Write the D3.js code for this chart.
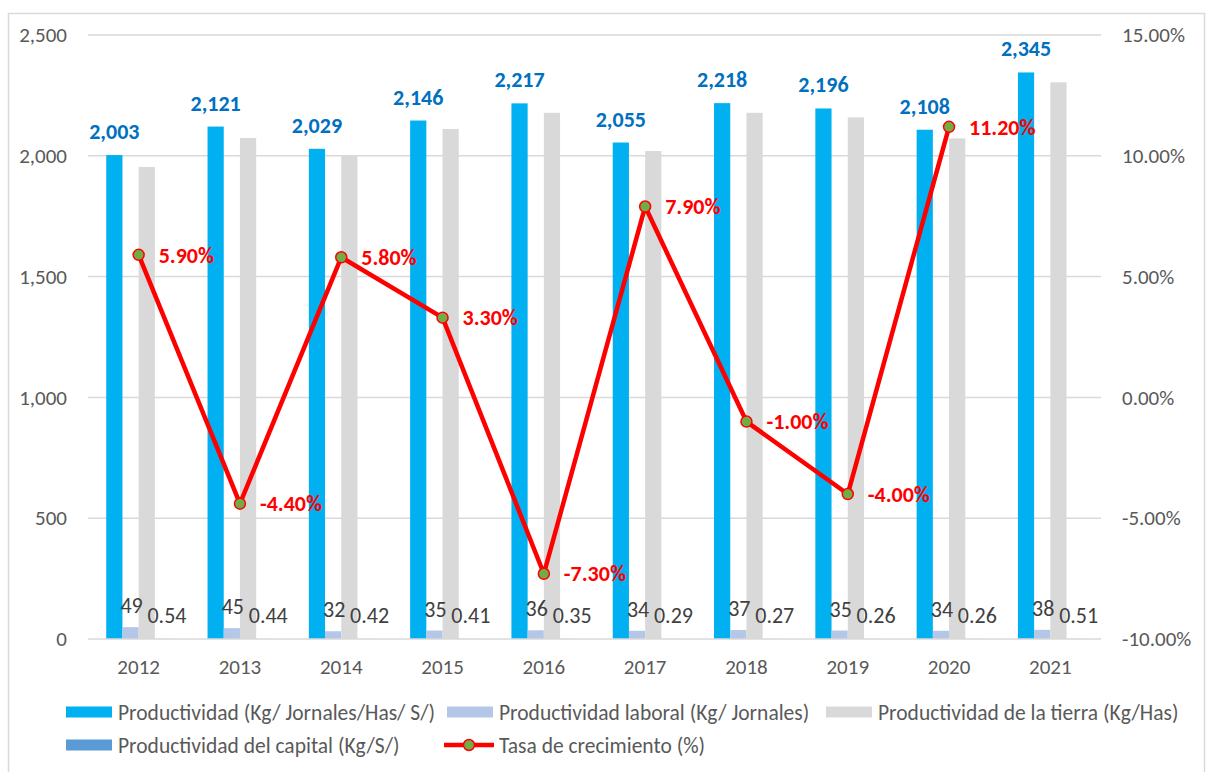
<!DOCTYPE html>
<html>
<head>
<meta charset="utf-8">
<script src="https://cdn.jsdelivr.net/npm/d3@7"></script>
<style>
  body { margin: 0; background: #fff; }
  svg text { font-family: Carlito, Calibri, Lato, "Open Sans", sans-serif; }
</style>
</head>
<body>
<svg id="chart" width="1209" height="772"></svg>
<script>
const width = 1209;
const height = 772;
const svg = d3.select('#chart');

// Data
const years = ['2012', '2013', '2014', '2015', '2016', '2017', '2018', '2019', '2020', '2021'];
const productividad = [2003, 2121, 2029, 2146, 2217, 2055, 2218, 2196, 2108, 2345];
const laboral = [49, 45, 32, 35, 36, 34, 37, 35, 34, 38];
const tierra = [1954, 2074, 2000, 2111, 2178, 2020, 2178, 2159, 2072, 2304];
const capital = [0.54, 0.44, 0.42, 0.41, 0.35, 0.29, 0.27, 0.26, 0.26, 0.51];
const tasa = [5.9, -4.4, 5.8, 3.3, -7.3, 7.9, -1.0, -4.0, 11.2, null];
const leftTicks = [0, 500, 1000, 1500, 2000, 2500];
const rightTicks = [-10, -5, 0, 5, 10, 15];

const seriesNames = [
  'Productividad (Kg/ Jornales/Has/ S/)',
  'Productividad laboral (Kg/ Jornales)',
  'Productividad de la tierra (Kg/Has)',
  'Productividad del capital (Kg/S/)'
];
const seriesValues = [productividad, laboral, tierra, capital];
const seriesColors = ['#00B0F0', '#B4C7E7', '#D9D9D9', '#5B9BD5'];
const lineName = 'Tasa de crecimiento (%)';

// plain hyphen for negatives, like the original
const locale = d3.formatLocale({ decimal: '.', thousands: ',', grouping: [3], currency: ['$', ''], minus: '-' });
const fmtPct = d => locale.format('.2f')(d) + '%';
const fmtInt = locale.format(',');

const margin = { left: 88, right: 108, top: 35, bottom: 133 };
const plotW = width - margin.left - margin.right;
const plotH = height - margin.top - margin.bottom;

// chart frame
svg.append('rect')
  .attr('x', 8.5).attr('y', 13.5)
  .attr('width', 1196).attr('height', 790)
  .attr('fill', 'none').attr('stroke', '#D9D9D9').attr('stroke-width', 1.5);

const g = svg.append('g').attr('transform', `translate(${margin.left},${margin.top})`);

const x = d3.scaleBand().domain(years).range([0, plotW]);
const groupW = x.bandwidth() * 0.64;
const xs = d3.scaleBand().domain(d3.range(4))
  .range([(x.bandwidth() - groupW) / 2, (x.bandwidth() + groupW) / 2]);
const y = d3.scaleLinear().domain([0, 2500]).range([plotH, 0]);
const y2 = d3.scaleLinear().domain([-10, 15]).range([plotH, 0]);

// gridlines
g.append('g')
  .selectAll('line')
  .data(leftTicks.slice(1))
  .enter().append('line')
  .attr('x1', 0).attr('x2', plotW)
  .attr('y1', d => y(d)).attr('y2', d => y(d))
  .attr('stroke', '#D9D9D9').attr('stroke-width', 1.5);

// left axis
const leftAxis = d3.axisLeft(y).tickValues(leftTicks).tickSize(0).tickPadding(21)
  .tickFormat(fmtInt);
g.append('g').call(leftAxis)
  .call(a => a.select('.domain').remove())
  .selectAll('text').attr('fill', '#595959').style('font-size', '21px');

// right axis
const rightAxis = d3.axisRight(y2).tickValues(rightTicks).tickSize(0).tickPadding(21)
  .tickFormat(fmtPct);
g.append('g').attr('transform', `translate(${plotW},0)`).call(rightAxis)
  .call(a => a.select('.domain').remove())
  .selectAll('text').attr('fill', '#595959').style('font-size', '21px');

// bars
const groups = g.append('g')
  .selectAll('g')
  .data(years)
  .enter().append('g')
  .attr('transform', d => `translate(${x(d)},0)`);

groups.selectAll('rect')
  .data((d, i) => seriesValues.map((s, k) => ({ k, v: s[i] })))
  .enter().append('rect')
  .attr('x', d => xs(d.k))
  .attr('width', xs.bandwidth())
  .attr('y', d => y(d.v))
  .attr('height', d => y(0) - y(d.v))
  .attr('fill', d => seriesColors[d.k]);

// bar labels
groups.append('text')
  .attr('x', xs(0) + xs.bandwidth() / 2)
  .attr('y', (d, i) => y(productividad[i]) - 16)
  .attr('text-anchor', 'middle')
  .attr('fill', '#0070C0')
  .style('font-size', '22px').style('font-weight', 'bold')
  .text((d, i) => fmtInt(productividad[i]));

groups.append('text')
  .attr('x', xs(1) + xs.bandwidth() / 2 + 1)
  .attr('y', (d, i) => y(laboral[i]) - 14)
  .attr('text-anchor', 'middle')
  .attr('fill', '#404040')
  .style('font-size', '22px')
  .text((d, i) => laboral[i]);

groups.append('text')
  .attr('x', xs(3) + xs.bandwidth() / 2 + 4)
  .attr('y', (d, i) => y(capital[i]) - 16)
  .attr('text-anchor', 'middle')
  .attr('fill', '#404040')
  .style('font-size', '22px')
  .text((d, i) => locale.format('.2f')(capital[i]));

// x axis line + labels
g.append('line')
  .attr('x1', 0).attr('x2', plotW)
  .attr('y1', y(0)).attr('y2', y(0))
  .attr('stroke', '#D9D9D9').attr('stroke-width', 1.5);

const bottomAxis = d3.axisBottom(x).tickSize(0).tickPadding(20);
g.append('g').attr('transform', `translate(0,${plotH})`).call(bottomAxis)
  .call(a => a.select('.domain').remove())
  .selectAll('text').attr('fill', '#595959').style('font-size', '21px');

// growth line
const lineData = years.map((yr, i) => ({ yr, v: tasa[i] })).filter(d => d.v !== null);
const line = d3.line()
  .x(d => x(d.yr) + x.bandwidth() / 2)
  .y(d => y2(d.v));

g.append('path')
  .datum(lineData)
  .attr('d', line)
  .attr('fill', 'none')
  .attr('stroke', '#FF0000')
  .attr('stroke-width', 4.5)
  .attr('stroke-linejoin', 'round');

g.append('g')
  .selectAll('circle')
  .data(lineData)
  .enter().append('circle')
  .attr('cx', d => x(d.yr) + x.bandwidth() / 2)
  .attr('cy', d => y2(d.v))
  .attr('r', 5.5)
  .attr('fill', '#70AD47')
  .attr('stroke', '#FF0000')
  .attr('stroke-width', 1.5);

g.append('g')
  .selectAll('text')
  .data(lineData)
  .enter().append('text')
  .attr('x', d => x(d.yr) + x.bandwidth() / 2 + 20)
  .attr('y', d => y2(d.v))
  .attr('dy', '0.35em')
  .attr('fill', '#FF0000')
  .style('font-size', '22px').style('font-weight', 'bold')
  .text(d => fmtPct(d.v));

// legend
const legend = svg.append('g').attr('class', 'legend');
const colX = [66, 447, 826];
const rowY = [712, 745];
const items = seriesNames.map((n, k) => ({ name: n, color: seriesColors[k], type: 'bar' }))
  .concat([{ name: lineName, color: '#FF0000', type: 'line' }]);

items.forEach((it, i) => {
  const col = i % 3;
  const row = Math.floor(i / 3);
  const li = legend.append('g').attr('transform', `translate(${colX[col]},${rowY[row]})`);
  if (it.type === 'bar') {
    li.append('rect').attr('x', 0).attr('y', -5.5).attr('width', 46).attr('height', 11).attr('fill', it.color);
  } else {
    li.append('line').attr('x1', -3).attr('x2', 47).attr('y1', 0).attr('y2', 0)
      .attr('stroke', '#FF0000').attr('stroke-width', 4.5);
    li.append('circle').attr('cx', 22).attr('cy', 0).attr('r', 5.5)
      .attr('fill', '#70AD47').attr('stroke', '#FF0000').attr('stroke-width', 1.5);
  }
  li.append('text')
    .attr('x', 52).attr('y', 0).attr('dy', '0.35em')
    .attr('fill', '#595959')
    .style('font-size', '21.5px')
    .text(it.name);
});
</script>
</body>
</html>
